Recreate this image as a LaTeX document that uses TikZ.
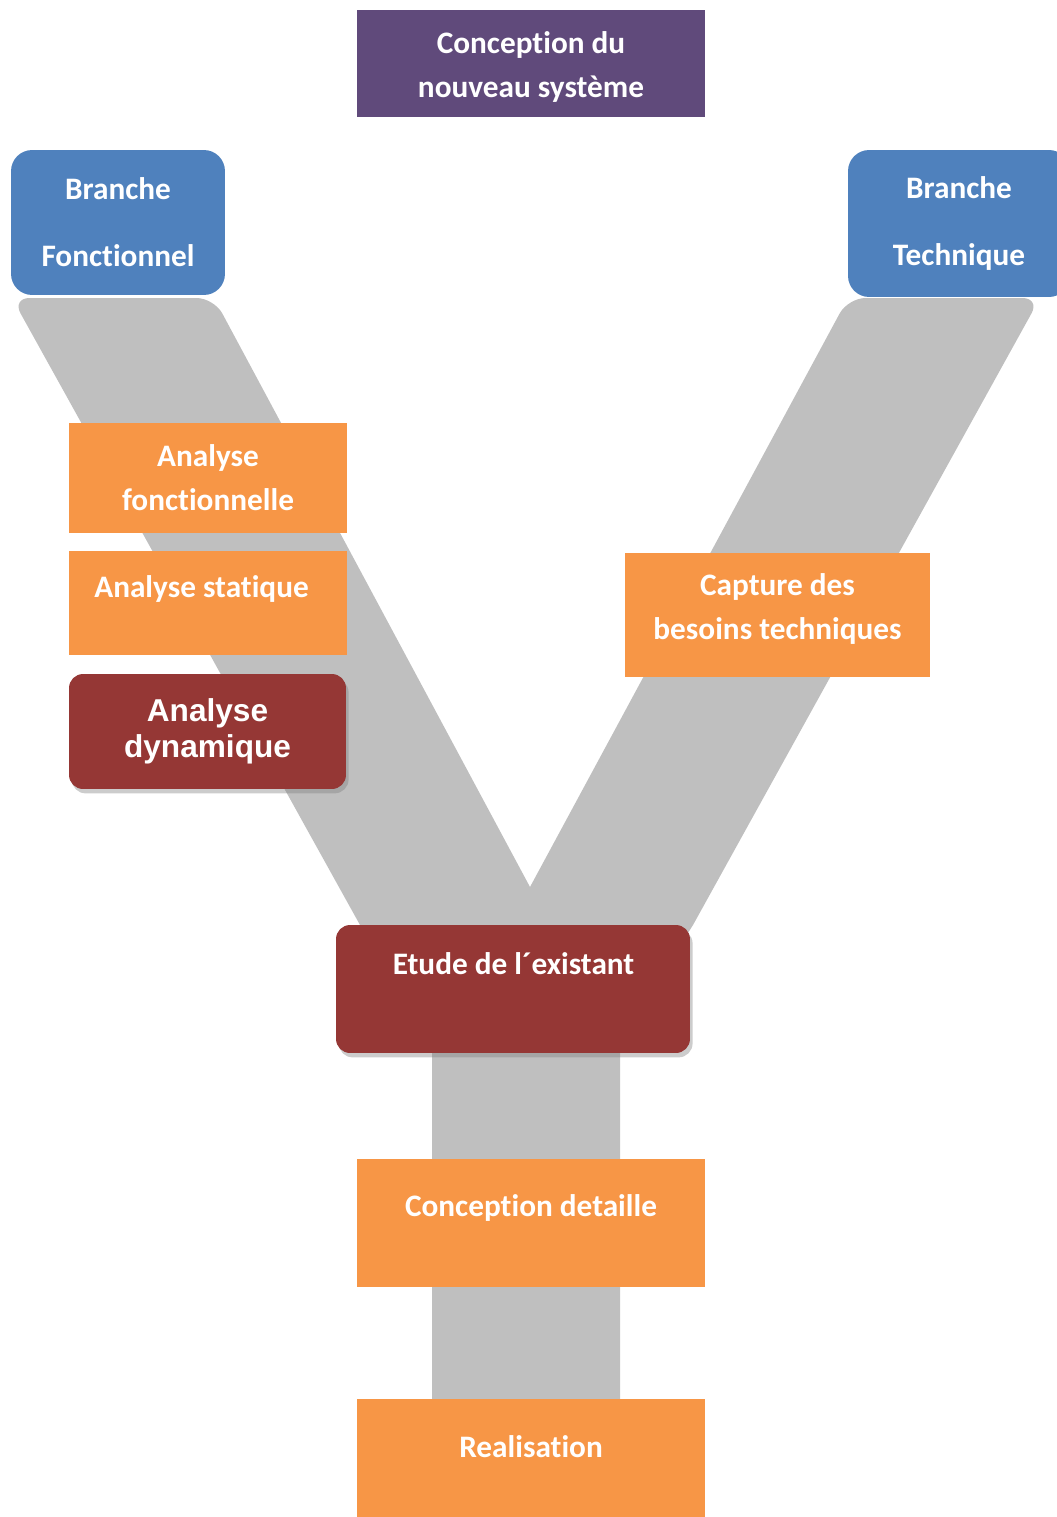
\documentclass[tikz,border=0pt]{standalone}
\usepackage{fontspec}
\setmainfont{Carlito}[Ligatures=NoCommon]
\newfontfamily\arialfont{Liberation Sans}
\usetikzlibrary{positioning,calc,shadows}
\definecolor{boxpurple}{HTML}{604A7B}
\definecolor{boxblue}{HTML}{4F81BD}
\definecolor{boxorange}{HTML}{F79646}
\definecolor{boxred}{HTML}{953735}
\definecolor{ygrey}{HTML}{BFBFBF}

\begin{document}
\begin{tikzpicture}[
  x=0.02cm, y=-0.02cm,
  every node/.style={inner sep=0pt, outer sep=0pt, align=center, text=white, font=\bfseries\fontsize{17.8}{25}\selectfont},
  head/.style={fill=boxpurple},
  branch/.style={fill=boxblue, rounded corners=12pt, font=\bfseries\fontsize{17.8}{38}\selectfont},
  stage/.style={fill=boxorange},
  hot/.style={fill=boxred, rounded corners=8pt, drop shadow={shadow xshift=1.5pt, shadow yshift=-2.5pt, opacity=0.4}},
]
  \useasboundingbox (0,0) rectangle (1057,1517);

  % Y shape
  \fill[ygrey] (360,925) [rounded corners=10pt] -- (12,298) -- (214,298) [sharp corners] -- (530,887)
    [rounded corners=10pt] -- (848,298) -- (1040,298) [sharp corners] -- (693,925) -- (620,1040)
    -- (620,1410) -- (432,1410) -- (432,1040) -- cycle;

  % Top
  \node[head, minimum width=6.96cm, minimum height=2.14cm] (cn) at (531,63.5) {};
  \node (cnT) at ($(cn)+(0,3.5)$) {Conception du\\nouveau système};

  % Branches
  \node[branch, minimum width=4.28cm, minimum height=2.9cm] (bf) at (118,222.5) {Branche\\Fonctionnel};
  \node[branch, minimum width=4.44cm, minimum height=2.94cm] (bt) at (959,223.5) {Branche\\Technique};

  % Left arm
  \node[stage, minimum width=5.56cm, minimum height=2.2cm] (af) at (208,478) {Analyse\\fonctionnelle};
  \node[stage, minimum width=5.56cm, minimum height=2.08cm] (as) at (208,603) {};
  \node (asT) at ($(as)+(-6.5,-14)$) {Analyse statique};
  \node[hot, minimum width=5.54cm, minimum height=2.3cm, font=\arialfont\bfseries\fontsize{18}{20.5}\selectfont] (ad) at (207.5,731.5) {Analyse\\dynamique};

  % Right arm
  \node[stage, minimum width=6.1cm, minimum height=2.48cm] (cb) at (777.5,615) {};
  \node (cbT) at ($(cb)+(0,-6)$) {Capture des\\besoins techniques};

  % Stem
  \node[hot, minimum width=7.08cm, minimum height=2.56cm] (ee) at (513,989) {};
  \node (eeT) at ($(ee)+(0.5,-25)$) {Etude de l´existant};
  \node[stage, minimum width=6.96cm, minimum height=2.56cm] (cd) at (531,1223) {};
  \node (cdT) at ($(cd)+(0,-15)$) {Conception detaille};
  \node[stage, minimum width=6.96cm, minimum height=2.36cm] (re) at (531,1458) {};
  \node (reT) at ($(re)+(0,-11)$) {Realisation};
\end{tikzpicture}
\end{document}
